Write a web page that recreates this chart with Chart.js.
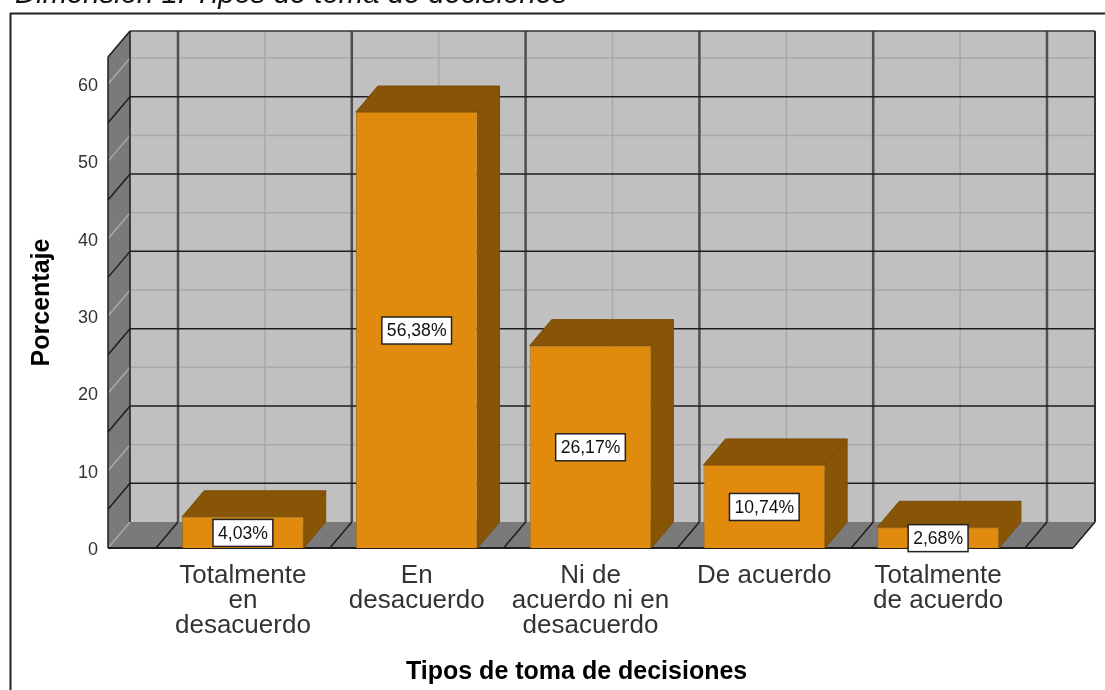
<!DOCTYPE html>
<html lang="es">
<head>
<meta charset="utf-8">
<title>Tipos de toma de decisiones</title>
<script src="https://cdn.jsdelivr.net/npm/chart.js@4"></script>
<style>
html,body{margin:0;padding:0;background:#fff;overflow:hidden}
canvas{display:block}
</style>
</head>
<body>
<canvas id="c" width="1105" height="690"></canvas>
<script>
const categories = [
  ['Totalmente','en','desacuerdo'],
  ['En','desacuerdo'],
  ['Ni de','acuerdo ni en','desacuerdo'],
  ['De acuerdo'],
  ['Totalmente','de acuerdo']
];
const percentages = [4.03, 56.38, 26.17, 10.74, 2.68];
const yTicks = [0, 10, 20, 30, 40, 50, 60];
const lightLevels = [0, 10, 20, 30, 40, 50, 60];
const darkLevels = [5, 15, 25, 35, 45, 55];
const yMax = 63.5;
const caption = 'Dimensión 1: Tipos de toma de decisiones';
const xTitle = 'Tipos de toma de decisiones    ';
const yTitle = 'Porcentaje';

const FONT = '"Liberation Sans", Arial, sans-serif';
const DX = 22, DY = 26, GUTTER = 48;
const WALL = '#c0c0c0', SIDE = '#7a7a7a', DARK = '#1e1e1e', GRIDV = '#4f4f4f', LIGHT = '#a9a9a9';
const ORANGE = '#e08a0e', BROWN = '#875505';

function line(ctx, x1, y1, x2, y2, color, w) {
  ctx.strokeStyle = color; ctx.lineWidth = w;
  ctx.beginPath(); ctx.moveTo(x1, y1); ctx.lineTo(x2, y2); ctx.stroke();
}
function poly(ctx, pts, fill, stroke) {
  ctx.beginPath();
  pts.forEach((p, i) => i ? ctx.lineTo(p[0], p[1]) : ctx.moveTo(p[0], p[1]));
  ctx.closePath();
  ctx.fillStyle = fill; ctx.fill();
  if (stroke) { ctx.strokeStyle = stroke; ctx.lineWidth = 1; ctx.stroke(); }
}

const scene = {
  id: 'scene',
  beforeDatasetsDraw(chart) {
    const { ctx, scales: { x, y } } = chart;
    const L = x.left - GUTTER, R = x.right + GUTTER;
    const B = y.getPixelForValue(0), T = y.getPixelForValue(yMax);
    ctx.save();
    // caption and frame
    ctx.fillStyle = '#111';
    ctx.font = 'italic 29.3px ' + FONT;
    ctx.textAlign = 'left'; ctx.textBaseline = 'alphabetic';
    ctx.fillText(caption, 15, 3);
    line(ctx, 10, 13.5, 1105, 13.5, '#222', 2);
    line(ctx, 10.5, 13, 10.5, 690, '#222', 2);
    // walls
    poly(ctx, [[L + DX, T - DY], [R + DX, T - DY], [R + DX, B - DY], [L + DX, B - DY]], WALL);
    poly(ctx, [[L, T], [L + DX, T - DY], [L + DX, B - DY], [L, B]], SIDE);
    poly(ctx, [[L, B], [L + DX, B - DY], [R + DX, B - DY], [R, B]], SIDE);
    // horizontal levels
    lightLevels.forEach(v => {
      const p = y.getPixelForValue(v);
      line(ctx, L, p, L + DX, p - DY, LIGHT, 1.5);
      if (v > 0) line(ctx, L + DX, p - DY, R + DX, p - DY, LIGHT, 1.5);
    });
    // verticals
    const step = x.getPixelForValue(1) - x.getPixelForValue(0);
    categories.forEach((_, i) => {
      const p = x.getPixelForValue(i) + DX;
      line(ctx, p, T - DY, p, B - DY, LIGHT, 1.5);
    });
    for (let i = 0; i <= categories.length; i++) {
      const p = x.getPixelForValue(0) - step / 2 + i * step;
      line(ctx, p + DX, T - DY, p + DX, B - DY, GRIDV, 2.5);
      line(ctx, p + DX, B - DY, p, B, DARK, 1.5);
    }
    darkLevels.forEach(v => {
      const p = y.getPixelForValue(v);
      line(ctx, L, p, L + DX, p - DY, DARK, 1.5);
      line(ctx, L + DX, p - DY, R + DX, p - DY, DARK, 1.5);
    });
    // outlines
    line(ctx, L + DX, T - DY, R + DX, T - DY, '#333', 1.5);
    line(ctx, R + DX, T - DY, R + DX, B - DY, '#333', 2);
    line(ctx, L + DX, T - DY, L + DX, B - DY, DARK, 1.5);
    line(ctx, L, T, L + DX, T - DY, DARK, 1.5);
    line(ctx, L, T, L, B, DARK, 1.5);
    line(ctx, L, B, R, B, DARK, 2);
    line(ctx, R, B, R + DX, B - DY, DARK, 1.5);
    // bar depth faces
    chart.getDatasetMeta(0).data.forEach(bar => {
      const l = bar.x - bar.width / 2, r = bar.x + bar.width / 2;
      poly(ctx, [[l, bar.y], [l + DX, bar.y - DY], [r + DX, bar.y - DY], [r, bar.y]], BROWN, '#7a4d06');
      poly(ctx, [[r, bar.y], [r + DX, bar.y - DY], [r + DX, bar.base - DY], [r, bar.base]], BROWN, '#7a4d06');
    });
    ctx.restore();
  },
  afterDatasetsDraw(chart) {
    const { ctx } = chart;
    ctx.save();
    ctx.font = '17.6px ' + FONT;
    ctx.textAlign = 'center'; ctx.textBaseline = 'middle';
    chart.getDatasetMeta(0).data.forEach((bar, i) => {
      const text = percentages[i].toFixed(2).replace('.', ',') + '%';
      const w = ctx.measureText(text).width + 10, h = 27;
      const cx = bar.x, cy = (bar.y + bar.base) / 2 + 0.5;
      ctx.fillStyle = '#fff';
      ctx.fillRect(cx - w / 2, cy - h / 2, w, h);
      ctx.strokeStyle = '#222'; ctx.lineWidth = 1.5;
      ctx.strokeRect(cx - w / 2, cy - h / 2, w, h);
      ctx.fillStyle = '#111';
      ctx.fillText(text, cx, cy + 1);
    });
    ctx.restore();
  }
};

new Chart(document.getElementById('c'), {
  type: 'bar',
  data: {
    labels: categories,
    datasets: [{
      data: percentages,
      backgroundColor: ORANGE,
      borderColor: '#a86c0c',
      borderWidth: 1,
      barPercentage: 0.7,
      categoryPercentage: 1
    }]
  },
  plugins: [scene],
  options: {
    responsive: false,
    animation: false,
    devicePixelRatio: 1,
    layout: { padding: { left: 12, right: 80, top: 57, bottom: 0 } },
    plugins: { legend: { display: false }, tooltip: { enabled: false }, title: { display: false } },
    scales: {
      x: {
        type: 'category',
        offset: true,
        afterFit: s => { s.height = 142; },
        border: { display: false },
        grid: { display: false, drawTicks: false },
        ticks: {
          autoSkip: false, maxRotation: 0, minRotation: 0, padding: 15, color: '#333',
          font: { family: FONT, size: 26, lineHeight: 0.97 }
        },
        title: {
          display: true, text: xTitle, color: '#000',
          font: { family: FONT, size: 25, weight: 'bold', lineHeight: 1 },
          padding: { top: 0, bottom: 5 }
        }
      },
      y: {
        min: 0, max: yMax,
        bounds: 'data',
        afterFit: s => { s.width = 144; s.paddingTop = 0; s.paddingBottom = 0; },
        border: { display: false },
        grid: { display: false, drawTicks: false },
        afterBuildTicks: s => { s.ticks = yTicks.map(v => ({ value: v })); },
        ticks: {
          includeBounds: false, padding: 58, color: '#333', labelOffset: 2,
          font: { family: FONT, size: 18 }
        },
        title: {
          display: true, text: yTitle, color: '#000',
          font: { family: FONT, size: 25, weight: 'bold', lineHeight: 1 },
          padding: { top: 18, bottom: 0 }
        }
      }
    }
  }
});
</script>
</body>
</html>
